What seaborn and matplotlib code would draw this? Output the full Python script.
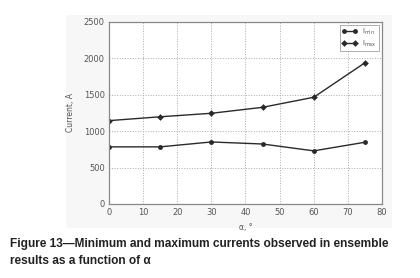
import matplotlib
matplotlib.use("Agg")
import matplotlib.pyplot as plt
import seaborn as sns
import pandas as pd
from matplotlib.patches import Rectangle

# data
alpha = [0, 15, 30, 45, 60, 75]
i_min = [785, 785, 852, 824, 730, 848]
i_max = [1145, 1198, 1246, 1328, 1466, 1940]
x_ticks = [0, 10, 20, 30, 40, 50, 60, 70, 80]
y_ticks = [0, 500, 1000, 1500, 2000, 2500]
caption = ("Figure 13\u2014Minimum and maximum currents observed in ensemble\n"
           "results as a function of \u03b1")

df = pd.DataFrame({"alpha": alpha, "imin": i_min, "imax": i_max})

sns.set_style("white")
plt.rcParams['font.family'] = ['DejaVu Sans']

fig = plt.figure(figsize=(4.2, 2.78), dpi=100, facecolor='white')
# light grey panel behind the embedded plot
fig.patches.append(Rectangle((0.157, 0.180), 0.776, 0.766, transform=fig.transFigure,
                             facecolor='#f7f7f7', edgecolor='none', zorder=-5))

ax = fig.add_axes([0.2595, 0.2662, 0.65, 0.6547])
ax.set_zorder(2)
ax.set_facecolor('white')
sns.lineplot(data=df, x="alpha", y="imin", marker='o', color='#2a2a2a', lw=1.0,
             markersize=3.5, markeredgewidth=0, label=r'I$_{\rm min}$', ax=ax)
sns.lineplot(data=df, x="alpha", y="imax", marker='D', color='#2a2a2a', lw=1.0,
             markersize=3.4, markeredgewidth=0, label=r'I$_{\rm max}$', ax=ax)

ax.set_xlim(0, 80)
ax.set_ylim(0, 2500)
ax.set_xticks(x_ticks)
ax.set_yticks(y_ticks)
ax.grid(True, color='#aaaaaa', linestyle=':', linewidth=0.7)
for s in ax.spines.values():
    s.set_color('#888888')
    s.set_linewidth(0.9)
ax.tick_params(labelsize=6, colors='#555555', length=0, pad=3)
ax.set_xlabel('\u03b1, \u00b0', fontsize=5.5, color='#555555', labelpad=4)
ax.set_ylabel('Current, A', fontsize=5.5, color='#555555', labelpad=6)

leg = ax.legend(loc='upper right', numpoints=2, fontsize=5, frameon=True, fancybox=False,
                handlelength=2.2, borderpad=0.3, labelspacing=0.2, handletextpad=0.8,
                borderaxespad=0.4)
leg.get_frame().set_edgecolor('#888888')
leg.get_frame().set_linewidth(0.6)
for t in leg.get_texts():
    t.set_color('#555555')

fig.text(0.025, 0.145, caption, fontsize=8.6, fontweight='bold',
         family=['Liberation Sans Narrow', 'Liberation Sans', 'DejaVu Sans'],
         color='#222222', va='top', ha='left', linespacing=1.6)

fig.savefig('out.png', dpi=100, facecolor='white')
